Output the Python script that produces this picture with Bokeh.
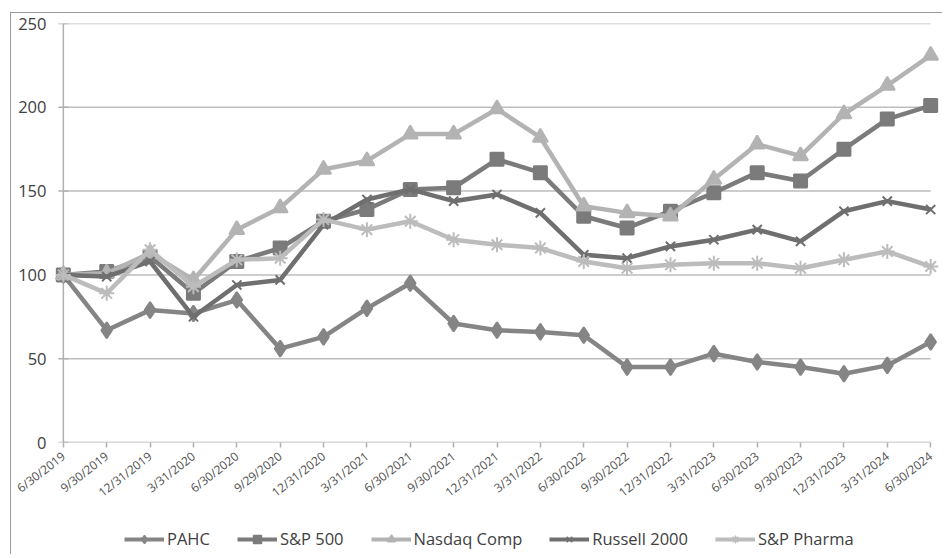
import math
from bokeh.plotting import figure
from bokeh.layouts import column
from bokeh.models import Range1d, FixedTicker, Legend, LegendItem
from bokeh.embed import file_html
from bokeh.resources import INLINE

dates = ["6/30/2019", "9/30/2019", "12/31/2019", "3/31/2020", "6/30/2020", "9/29/2020",
         "12/31/2020", "3/31/2021", "6/30/2021", "9/30/2021", "12/31/2021", "3/31/2022",
         "6/30/2022", "9/30/2022", "12/31/2022", "3/31/2023", "6/30/2023", "9/30/2023",
         "12/31/2023", "3/31/2024", "6/30/2024"]

pahc = [100, 67, 79, 77, 85, 56, 63, 80, 95, 71, 67, 66, 64, 45, 45, 53, 48, 45, 41, 46, 60]
sp500 = [100, 102, 111, 89, 108, 116, 132, 139, 151, 152, 169, 161, 135, 128, 138, 149, 161, 156, 175, 193, 201]
nasdaq = [100, 101, 113, 97, 127, 140, 163, 168, 184, 184, 199, 182, 141, 137, 135, 157, 178, 171, 196, 213, 231]
russell = [100, 99, 108, 75, 94, 97, 130, 145, 151, 144, 148, 137, 112, 110, 117, 121, 127, 120, 138, 144, 139]
pharma = [100, 89, 115, 93, 109, 110, 133, 127, 132, 121, 118, 116, 108, 104, 106, 107, 107, 104, 109, 114, 105]

y_ticks = [0, 50, 100, 150, 200, 250]

series = [
    ("PAHC", pahc, "#858585", "diamond", 16),
    ("S&P 500", sp500, "#7b7b7b", "square", 13),
    ("Nasdaq Comp", nasdaq, "#b3b3b3", "triangle", 15),
    ("Russell 2000", russell, "#6f6f6f", "x", 13),
    ("S&P Pharma", pharma, "#bcbcbc", "asterisk", 15),
]

FONT = "Open Sans"
n = len(dates)
xs = list(range(n))

p = figure(width=931, height=497, x_range=Range1d(-0.25, n - 1 + 0.25), y_range=Range1d(0, 250),
           output_backend="svg", toolbar_location=None,
           min_border_left=41, min_border_right=1, min_border_top=10, min_border_bottom=68)
p.outline_line_color = None
p.background_fill_color = "white"
p.border_fill_color = "white"
p.xgrid.grid_line_color = None
p.ygrid.grid_line_color = None

# gridlines
grid_vals = [v for v in y_ticks if v > 0]
p.segment(x0=[xs[0]] * len(grid_vals), x1=[xs[-1]] * len(grid_vals), y0=grid_vals, y1=grid_vals,
          line_color="#bdbdbd", line_width=1.5)
# axis lines
p.segment(x0=[xs[0], xs[0]], x1=[xs[-1], xs[0]], y0=[0, 0], y1=[0, 250],
          line_color="#b0b0b0", line_width=1.5)
# y tick stubs
p.scatter(x=[xs[0]] * len(y_ticks), y=y_ticks, marker="dash", size=10,
          line_color="#b0b0b0", line_width=1.5)

# y axis
p.yaxis.ticker = FixedTicker(ticks=y_ticks)
p.yaxis.axis_line_color = None
p.yaxis.major_tick_out = 0
p.yaxis.major_tick_in = 0
p.yaxis.minor_tick_line_color = None
p.yaxis.major_label_standoff = 6
p.yaxis.major_label_text_font = FONT
p.yaxis.major_label_text_font_size = "16.5px"
p.yaxis.major_label_text_color = "#404040"

# x axis
p.xaxis.ticker = FixedTicker(ticks=xs)
p.xaxis.major_label_overrides = {i: d for i, d in enumerate(dates)}
p.xaxis.major_label_orientation = math.radians(38)
p.xaxis.axis_line_color = None
p.xaxis.major_tick_out = 5
p.xaxis.major_tick_in = 0
p.xaxis.major_tick_line_color = "#b0b0b0"
p.xaxis.major_tick_line_width = 1.5
p.xaxis.minor_tick_line_color = None
p.xaxis.major_label_standoff = 7
p.xaxis.major_label_text_font = FONT
p.xaxis.major_label_text_font_size = "12px"
p.xaxis.major_label_text_color = "#505050"

# legend figure (renderers lie outside its ranges; only the legend shows)
lf = figure(width=931, height=44, x_range=Range1d(0, 1), y_range=Range1d(-1, 0),
            output_backend="svg", toolbar_location=None,
            x_axis_location=None, y_axis_location=None,
            min_border_left=0, min_border_right=0, min_border_top=0, min_border_bottom=0)
lf.outline_line_color = None
lf.xgrid.grid_line_color = None
lf.ygrid.grid_line_color = None

items = []
for name, vals, color, marker, size in series:
    p.line(xs, vals, line_color=color, line_width=4.5)
    p.scatter(xs, vals, marker=marker, size=size, fill_color=color, line_color=color,
              line_width=2)
    l2 = lf.line(xs, vals, line_color=color, line_width=4)
    s2 = lf.scatter(xs, vals, marker=marker, size=9, fill_color=color, line_color=color,
                    line_width=1.5)
    items.append(LegendItem(label=name, renderers=[l2, s2]))

legend = Legend(items=items, orientation="horizontal", location=(72, 4))
legend.background_fill_alpha = 0
legend.border_line_color = None
legend.padding = 0
legend.margin = 0
legend.spacing = 27
legend.label_standoff = 3
legend.glyph_width = 40
legend.glyph_height = 20
legend.label_height = 20
legend.label_text_font = FONT
legend.label_text_font_size = "16.5px"
legend.label_text_color = "#404040"
lf.add_layout(legend)

layout = column(p, lf, spacing=0)
layout.margin = (12, 0, 0, 10)
layout.styles = {"border-left": "1px solid #9a9a9a", "border-top": "1px solid #9a9a9a"}

open("out.html", "w").write(file_html(layout, INLINE))
